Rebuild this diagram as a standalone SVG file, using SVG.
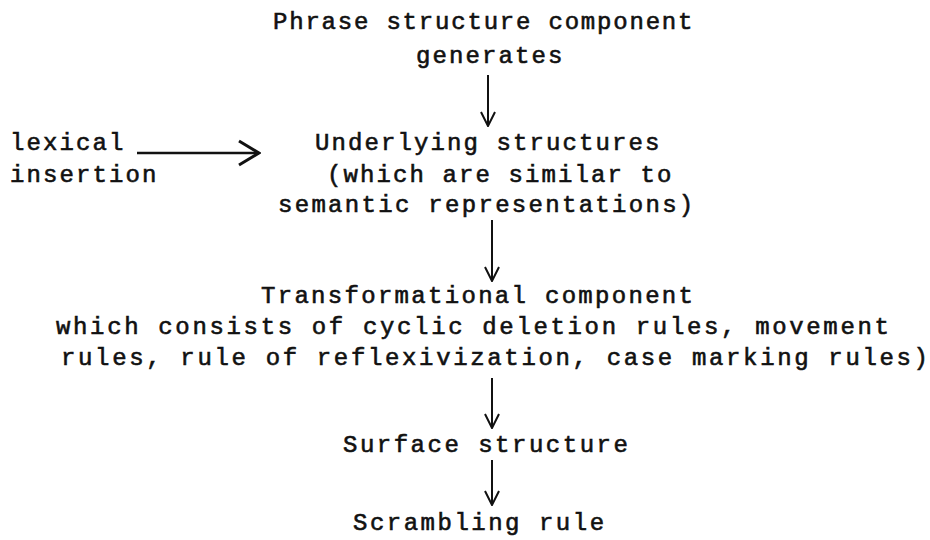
<svg xmlns="http://www.w3.org/2000/svg" width="930" height="540" viewBox="0 0 930 540">
<style>
  text { font-family: "Liberation Mono", "DejaVu Sans Mono", monospace; font-size: 24px; fill: #111; stroke: #111; stroke-width: 0.6px; }
  .p162 { letter-spacing: 1.8px; }
  .p165 { letter-spacing: 2.1px; }
  .p167 { letter-spacing: 2.3px; }
  .p169 { letter-spacing: 2.5px; }
  .p170 { letter-spacing: 2.65px; }
  .conn line { stroke: #111; stroke-width: 2; fill: none; }
</style>
<defs>
  <marker id="vhead" markerUnits="userSpaceOnUse" viewBox="0 0 16 16" refX="15" refY="8" markerWidth="16" markerHeight="16" orient="auto">
    <path d="M1,1 L15,8 L1,15" fill="none" stroke="#111" stroke-width="2"/>
  </marker>
  <marker id="hhead" markerUnits="userSpaceOnUse" viewBox="0 0 24 28" refX="22" refY="14" markerWidth="24" markerHeight="28" orient="auto">
    <path d="M2,2 L22,14 L2,26" fill="none" stroke="#111" stroke-width="3"/>
  </marker>
</defs>
<rect width="930" height="540" fill="#fff"/>

<g id="phrase-structure">
  <text x="273" y="29" class="p162">Phrase structure component</text>
  <text x="416" y="63" class="p165">generates</text>
</g>

<g id="lexical-insertion">
  <text x="10" y="150" class="p165">lexical</text>
  <text x="10" y="182" class="p165">insertion</text>
</g>

<g id="underlying-structures">
  <text x="315" y="150" class="p165">Underlying structures</text>
  <text x="327" y="182" class="p165">(which are similar to</text>
  <text x="278" y="212" class="p167">semantic representations)</text>
</g>

<g id="transformational-component">
  <text x="261" y="303" class="p167">Transformational component</text>
  <text x="56" y="334" class="p170">which consists of cyclic deletion rules, movement</text>
  <text x="61" y="365" class="p170">rules, rule of reflexivization, case marking rules)</text>
</g>

<g id="surface-structure">
  <text x="343" y="452" class="p169">Surface structure</text>
</g>

<g id="scrambling-rule">
  <text x="353" y="530" class="p169">Scrambling rule</text>
</g>

<g id="connectors" class="conn">
  <line x1="488" y1="75" x2="488" y2="126" marker-end="url(#vhead)"/>
  <line x1="137" y1="153" x2="259" y2="153" marker-end="url(#hhead)" style="stroke-width:2.6"/>
  <line x1="492" y1="220" x2="492" y2="281" marker-end="url(#vhead)"/>
  <line x1="492" y1="378" x2="492" y2="428" marker-end="url(#vhead)"/>
  <line x1="492" y1="460" x2="492" y2="505" marker-end="url(#vhead)"/>
</g>
</svg>
